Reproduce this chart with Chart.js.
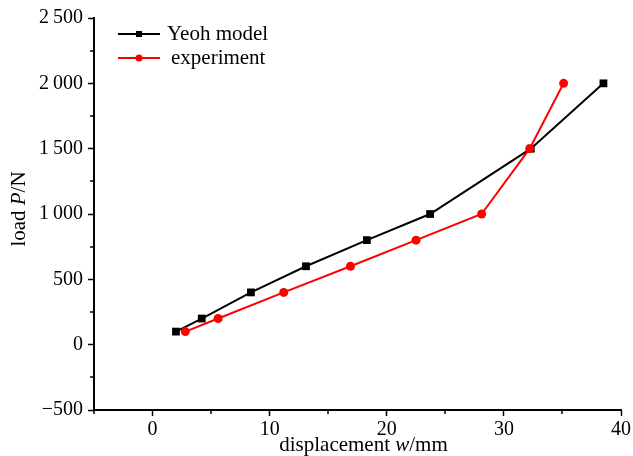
<!DOCTYPE html>
<html>
<head>
<meta charset="utf-8">
<script src="https://cdn.jsdelivr.net/npm/chart.js@4/dist/chart.umd.min.js"></script>
<style>
  html, body { margin: 0; padding: 0; background: #fff; }
  #wrap { width: 633px; height: 456px; }
</style>
</head>
<body>
<div id="wrap"><canvas id="c" width="633" height="456"></canvas></div>
<script>
// ---- data ----
const seriesNames = ['Yeoh model', 'experiment'];
const yeohDisp = [2.0, 4.2, 8.4, 13.1, 18.3, 23.7, 32.3, 38.5];
const yeohLoad = [100, 200, 400, 600, 800, 1000, 1500, 2000];
const expDisp  = [2.8, 5.6, 11.2, 16.9, 22.5, 28.1, 32.2, 35.1];
const expLoad  = [100, 200, 400, 600, 800, 1000, 1500, 2000];
const xTicks = [0, 10, 20, 30, 40];
const xTickLabels = ['0', '10', '20', '30', '40'];
const yTicks = [-500, 0, 500, 1000, 1500, 2000, 2500];
const yTickLabels = ['\u2212500', '0', '500', '1\u2009000', '1\u2009500', '2\u2009000', '2\u2009500'];

const FONT = "'Liberation Serif', 'Times New Roman', serif";

function toPoints(xs, ys) { return xs.map((x, i) => ({ x: x, y: ys[i] })); }

const minorTicks = {
  id: 'minorTicks',
  afterDraw(chart) {
    const ctx = chart.ctx;
    const xs = chart.scales.x, ys = chart.scales.y;
    const a = chart.chartArea;
    ctx.save();
    ctx.strokeStyle = '#000';
    ctx.lineWidth = 1.5;
    ctx.beginPath();
    for (let v = xs.min; v <= xs.max; v += 5) {
      if (v % 10 === 0) continue;
      const px = Math.round(xs.getPixelForValue(v));
      ctx.moveTo(px, a.bottom); ctx.lineTo(px, a.bottom + 4);
    }
    for (let v = ys.min + 250; v < ys.max; v += 500) {
      const py = Math.round(ys.getPixelForValue(v));
      ctx.moveTo(a.left, py); ctx.lineTo(a.left - 4, py);
    }
    ctx.stroke();
    ctx.restore();
  }
};

function drawMixed(ctx, parts, x, y) {
  // parts: [{t, italic}], left-aligned drawing from x
  let cx = x;
  parts.forEach(p => {
    ctx.font = (p.italic ? 'italic ' : '') + '21px ' + FONT;
    ctx.fillText(p.t, cx, y);
    cx += ctx.measureText(p.t).width;
  });
}
function mixedWidth(ctx, parts) {
  let w = 0;
  parts.forEach(p => {
    ctx.font = (p.italic ? 'italic ' : '') + '21px ' + FONT;
    w += ctx.measureText(p.t).width;
  });
  return w;
}

const axisTitles = {
  id: 'axisTitles',
  afterDraw(chart) {
    const ctx = chart.ctx;
    const a = chart.chartArea;
    ctx.save();
    ctx.fillStyle = '#000';
    ctx.textBaseline = 'alphabetic';
    ctx.textAlign = 'left';
    const xt = [{ t: 'displacement ', italic: false }, { t: 'w', italic: true }, { t: '/mm', italic: false }];
    const wx = mixedWidth(ctx, xt);
    drawMixed(ctx, xt, (a.left + a.right) / 2 + 6 - wx / 2, 451);
    const yt = [{ t: 'load ', italic: false }, { t: 'P', italic: true }, { t: '/N', italic: false }];
    const wy = mixedWidth(ctx, yt);
    ctx.translate(25, 209);
    ctx.rotate(-Math.PI / 2);
    drawMixed(ctx, yt, -wy / 2, 0);
    ctx.restore();
  }
};

const customLegend = {
  id: 'customLegend',
  afterDraw(chart) {
    const ctx = chart.ctx;
    ctx.save();
    chart.data.datasets.forEach((ds, i) => {
      const y = 34 + i * 24;
      ctx.strokeStyle = ds.borderColor;
      ctx.lineWidth = 2;
      ctx.beginPath();
      ctx.moveTo(118, y); ctx.lineTo(160, y);
      ctx.stroke();
      ctx.fillStyle = ds.pointBackgroundColor;
      if (ds.pointStyle === 'rect') {
        ctx.fillRect(136, y - 3, 6, 6);
      } else {
        ctx.beginPath(); ctx.arc(139, y, 3.5, 0, Math.PI * 2); ctx.fill();
      }
      ctx.fillStyle = '#000';
      ctx.font = '21px ' + FONT;
      ctx.textBaseline = 'middle';
      ctx.textAlign = 'left';
      ctx.fillText(ds.label, i === 0 ? 167 : 171, y);
    });
    ctx.restore();
  }
};

new Chart(document.getElementById('c'), {
  type: 'scatter',
  data: {
    datasets: [
      {
        label: seriesNames[0],
        data: toPoints(yeohDisp, yeohLoad),
        showLine: true,
        borderColor: '#000000',
        backgroundColor: '#000000',
        pointBackgroundColor: '#000000',
        pointBorderColor: '#000000',
        borderWidth: 2,
        pointStyle: 'rect',
        pointRadius: 5.5,
        pointBorderWidth: 0,
        order: 2
      },
      {
        label: seriesNames[1],
        data: toPoints(expDisp, expLoad),
        showLine: true,
        borderColor: '#ff0000',
        backgroundColor: '#ff0000',
        pointBackgroundColor: '#ff0000',
        pointBorderColor: '#ff0000',
        borderWidth: 2,
        pointStyle: 'circle',
        pointRadius: 4.5,
        pointBorderWidth: 0,
        order: 1
      }
    ]
  },
  options: {
    responsive: false,
    animation: false,
    events: [],
    layout: { padding: { top: 18, right: 12, left: 0, bottom: 0 } },
    plugins: { legend: { display: false }, tooltip: { enabled: false } },
    scales: {
      x: {
        type: 'linear',
        min: -5, max: 40,
        afterFit(s) { s.height = 46; },
        afterBuildTicks(s) { s.ticks = xTicks.map(v => ({ value: v })); },
        ticks: {
          color: '#000',
          font: { family: FONT, size: 20 },
          padding: 2,
          callback: (v) => { const i = xTicks.indexOf(v); return i >= 0 ? xTickLabels[i] : ''; }
        },
        grid: { display: true, drawOnChartArea: false, drawTicks: true, tickLength: 6, tickWidth: 1.5, tickColor: '#000' },
        border: { display: true, color: '#000', width: 2 },
        title: { display: false }
      },
      y: {
        type: 'linear',
        min: -500, max: 2500,
        afterFit(s) { s.width = 94; },
        afterBuildTicks(s) { s.ticks = yTicks.map(v => ({ value: v })); },
        ticks: {
          color: '#000',
          font: { family: FONT, size: 20 },
          padding: 5,
          callback: (v) => { const i = yTicks.indexOf(v); return i >= 0 ? yTickLabels[i] : ''; }
        },
        grid: { display: true, drawOnChartArea: false, drawTicks: true, tickLength: 6, tickWidth: 1.5, tickColor: '#000' },
        border: { display: true, color: '#000', width: 2 },
        title: { display: false }
      }
    }
  },
  plugins: [minorTicks, axisTitles, customLegend]
});
</script>
</body>
</html>
